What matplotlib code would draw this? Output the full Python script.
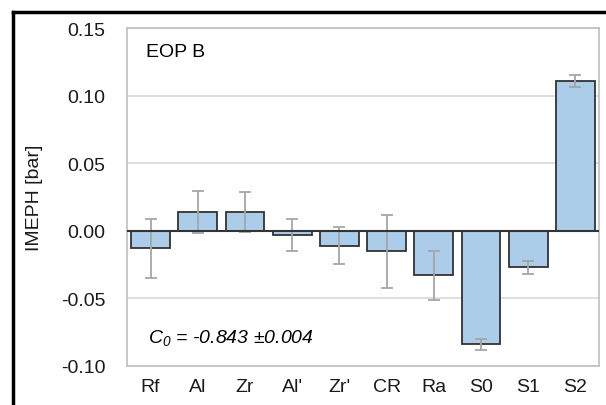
import matplotlib.pyplot as plt
from matplotlib.lines import Line2D

plt.rcParams['font.family'] = ['Liberation Sans', 'DejaVu Sans']
plt.rcParams['mathtext.fontset'] = 'custom'
plt.rcParams['mathtext.it'] = 'Liberation Sans:italic'
plt.rcParams['mathtext.rm'] = 'Liberation Sans:italic'

# effects on IMEPH, EOP B
factors = ['Rf', 'Al', 'Zr', "Al'", "Zr'", 'CR', 'Ra', 'S0', 'S1', 'S2']
effects = [-0.013, 0.014, 0.014, -0.003, -0.011, -0.015, -0.033, -0.084, -0.027, 0.111]
errors = [0.022, 0.0155, 0.015, 0.012, 0.0135, 0.027, 0.018, 0.004, 0.005, 0.0045]
yticks = [-0.10, -0.05, 0.00, 0.05, 0.10, 0.15]

fig = plt.figure(figsize=(6.06, 4.06), dpi=100)
ax = fig.add_axes([127 / 606, 39 / 406, 472 / 606, 338 / 406])

x = range(len(factors))
ax.bar(x, effects, width=0.82, color='#abcdea', edgecolor='#333333', linewidth=1.3, zorder=3)
ax.errorbar(x, effects, yerr=errors, fmt='none', ecolor='#a6a6a6', elinewidth=1.3,
            capsize=4, capthick=1.3, zorder=4)
ax.axhline(0, color='#333333', linewidth=1.5, zorder=5)

ax.set_xlim(-0.5, len(factors) - 0.5)
ax.set_ylim(-0.10, 0.15)
ax.set_yticks(yticks)
ax.set_yticklabels(['%.2f' % v for v in yticks])
ax.set_xticks(list(x))
ax.set_xticklabels(factors)
ax.tick_params(length=0, labelsize=14, colors='#1a1a1a')
ax.tick_params(axis='y', pad=15.5)
ax.tick_params(axis='x', pad=9)
ax.grid(axis='y', color='#d9d9d9', linewidth=1.2, zorder=0)
for s in ax.spines.values():
    s.set_color('#bfbfbf')
    s.set_linewidth(1.2)

ax.set_ylabel('IMEPH [bar]', fontsize=14, color='#1a1a1a', labelpad=13)
ax.text(0.04, 0.93, 'EOP B', transform=ax.transAxes, fontsize=14, va='center', ha='left')
ax.text(0.045, 0.085, r'$C_{0}$ = -0.843 ±0.004', transform=ax.transAxes,
        fontsize=14, va='center', ha='left', style='italic')

# outer frame (cropped at right and bottom)
fig.add_artist(Line2D([13 / 606, 13 / 606], [0, 1 - 13 / 406], transform=fig.transFigure,
                      color='black', linewidth=2.5))
fig.add_artist(Line2D([13 / 606, 1], [1 - 13 / 406, 1 - 13 / 406], transform=fig.transFigure,
                      color='black', linewidth=2.5))

fig.savefig('out.png', dpi=100)
